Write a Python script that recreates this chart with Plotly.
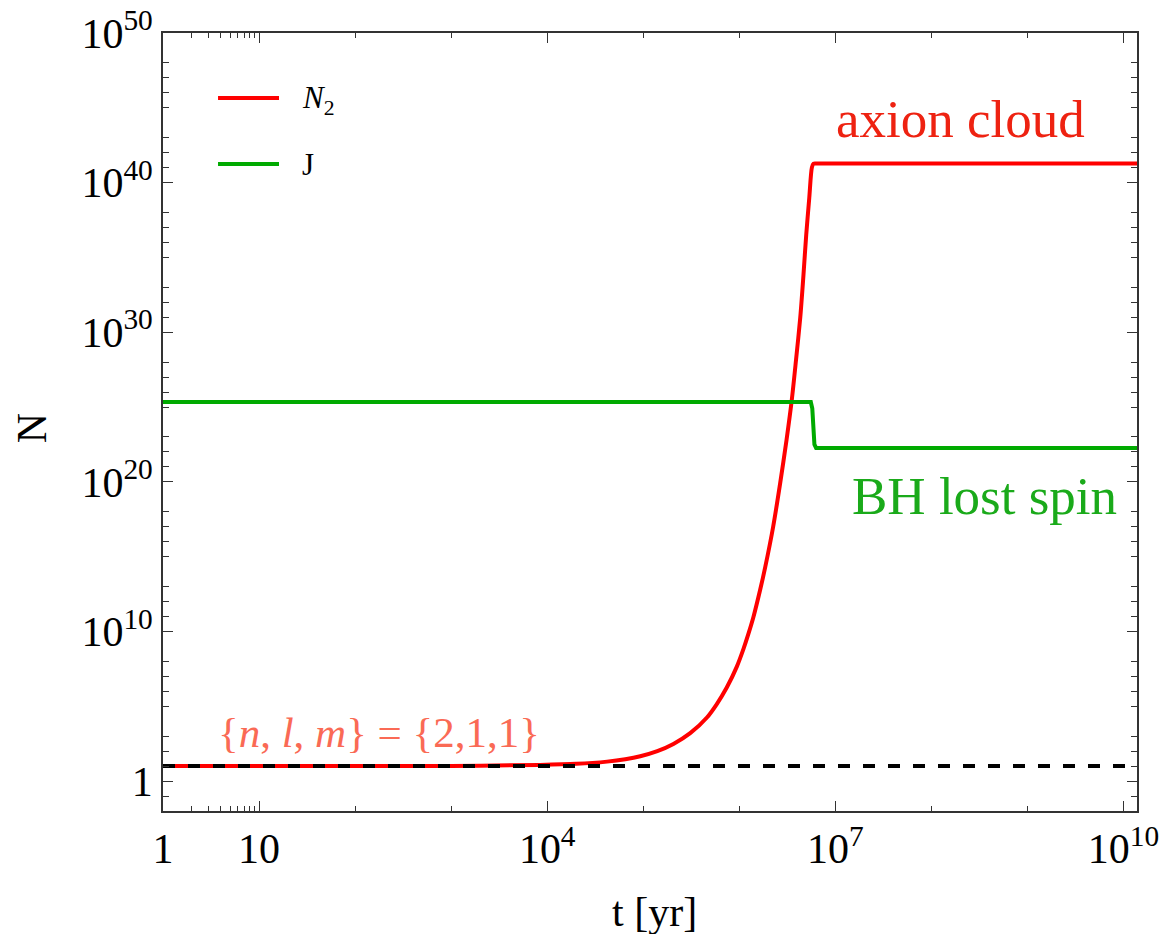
import plotly.graph_objects as go

# ---------------- data ----------------
t_red = [1, 1.0e3, 8.4e3, 2.0e4, 4.2e4, 6.5e4, 9.3e4, 1.4e5, 2.06e5, 3.08e5, 4.6e5,
         5.83e5, 7.4e5, 9.42e5, 1.10e6, 1.245e6, 1.40e6, 1.65e6, 1.86e6, 2.25e6,
         2.66e6, 3.1e6, 3.52e6, 3.9e6, 4.31e6, 4.65e6, 4.97e6, 5.35e6, 5.69e6,
         5.92e6, 6.6e6, 1.4e10]
logN_red = [1.0, 1.01, 1.08, 1.15, 1.3, 1.46, 1.66, 2.0, 2.48, 3.2, 4.25,
            5.15, 6.25, 7.65, 8.8, 9.85, 10.95, 12.8, 14.3, 17.0,
            19.9, 22.8, 25.5, 28.2, 31.0, 33.8, 36.5, 39.0, 41.0,
            41.27, 41.27, 41.27]

t_green = [1, 5.55e6, 5.75e6, 6.05e6, 6.3e6, 1.4e10]
logN_green = [25.33, 25.33, 24.9, 22.5, 22.27, 22.27]

t_dash = [1, 1.4e10]
N_dash = [10, 10]

x_tickvals = [1, 10, 1e4, 1e7, 1e10]
x_ticktext = ["1", "10", "10<sup>4</sup>", "10<sup>7</sup>", "10<sup>10</sup>"]
x_minor = [2, 3, 4, 5, 6, 7, 8, 9, 1e2, 1e3, 1e5, 1e6, 1e8, 1e9]

y_tickvals = [1, 1e10, 1e20, 1e30, 1e40, 1e50]
y_ticktext = ["1", "10<sup>10</sup>", "10<sup>20</sup>", "10<sup>30</sup>",
              "10<sup>40</sup>", "10<sup>50</sup>"]
y_minor_exps = [-1] + [k for k in range(1, 50) if k % 10 not in (0, 4, 9)]
y_minor = [10.0 ** k for k in y_minor_exps]

N_red = [10.0 ** v for v in logN_red]
N_green = [10.0 ** v for v in logN_green]

# ---------------- styles ----------------
FONT = "Liberation Serif"
RED = "#ff0000"
GREEN = "#00aa00"
AX = "#333333"

fig = go.Figure()
fig.add_trace(go.Scatter(x=t_red, y=N_red, mode="lines",
                         line=dict(color=RED, width=4, shape="spline", smoothing=0.8),
                         showlegend=False))
fig.add_trace(go.Scatter(x=t_green, y=N_green, mode="lines",
                         line=dict(color=GREEN, width=4), showlegend=False))
fig.add_trace(go.Scatter(x=t_dash, y=N_dash, mode="lines",
                         line=dict(color="black", width=4, dash="12px,13px"),
                         showlegend=False))

axis_common = dict(
    type="log", showgrid=False, zeroline=False, automargin=False,
    showline=True, linecolor=AX, linewidth=1.6, mirror="allticks",
    ticks="inside", ticklen=10, tickwidth=1.3, tickcolor=AX,
    tickfont=dict(family=FONT, size=42, color="black"),
)

fig.update_xaxes(**axis_common, range=[0, 10.14],
                 tickmode="array", tickvals=x_tickvals, ticktext=x_ticktext,
                 minor=dict(tickmode="array", tickvals=x_minor, ticks="inside",
                            ticklen=5, tickwidth=1.2, tickcolor=AX, showgrid=False))
fig.update_yaxes(**axis_common, range=[-2, 50],
                 tickmode="array", tickvals=y_tickvals, ticktext=y_ticktext,
                 minor=dict(tickmode="array", tickvals=y_minor, ticks="inside",
                            ticklen=6, tickwidth=1.2, tickcolor=AX, showgrid=False))

# legend drawn manually (longer line samples as in the reference)
fig.add_shape(type="line", xref="paper", yref="paper", x0=0.0565, x1=0.1191,
              y0=0.9165, y1=0.9165, line=dict(color=RED, width=4))
fig.add_shape(type="line", xref="paper", yref="paper", x0=0.0565, x1=0.1191,
              y0=0.8316, y1=0.8316, line=dict(color=GREEN, width=4))

ann = []
ann.append(dict(text="<i>N</i><sub>2</sub>", x=0.1407, y=0.9135, xanchor="left",
                yanchor="middle", font=dict(family=FONT, size=31, color="black")))
ann.append(dict(text="J", x=0.1407, y=0.8316, xanchor="left", yanchor="middle",
                font=dict(family=FONT, size=31, color="black")))
ann.append(dict(text="axion cloud", x=0.8193, y=0.8900, xanchor="center",
                yanchor="middle", font=dict(family=FONT, size=53, color="#ee2211")))
ann.append(dict(text="BH lost spin", x=0.8435, y=0.4050, xanchor="center",
                yanchor="middle", font=dict(family=FONT, size=53, color="#1aaa1a")))
ann.append(dict(text="{<i>n</i>, <i>l</i>, <i>m</i>} = {2,1,1}", x=0.2215, y=0.1015,
                xanchor="center", yanchor="middle",
                font=dict(family=FONT, size=43, color="#fa6a55")))
ann.append(dict(text="t [yr]", x=0.505, y=-0.13, xanchor="center", yanchor="middle",
                font=dict(family=FONT, size=42, color="black")))
ann.append(dict(text="N", x=-0.1345, y=0.492, xanchor="center", yanchor="middle",
                textangle=-90, font=dict(family=FONT, size=42, color="black")))
for a in ann:
    a.update(xref="paper", yref="paper", showarrow=False)
fig.update_layout(annotations=ann)

fig.update_layout(
    width=1162, height=934,
    margin=dict(l=163, r=25, t=33, b=123, autoexpand=False),
    paper_bgcolor="white", plot_bgcolor="white",
    showlegend=False,
)

fig.write_html("out.html")
